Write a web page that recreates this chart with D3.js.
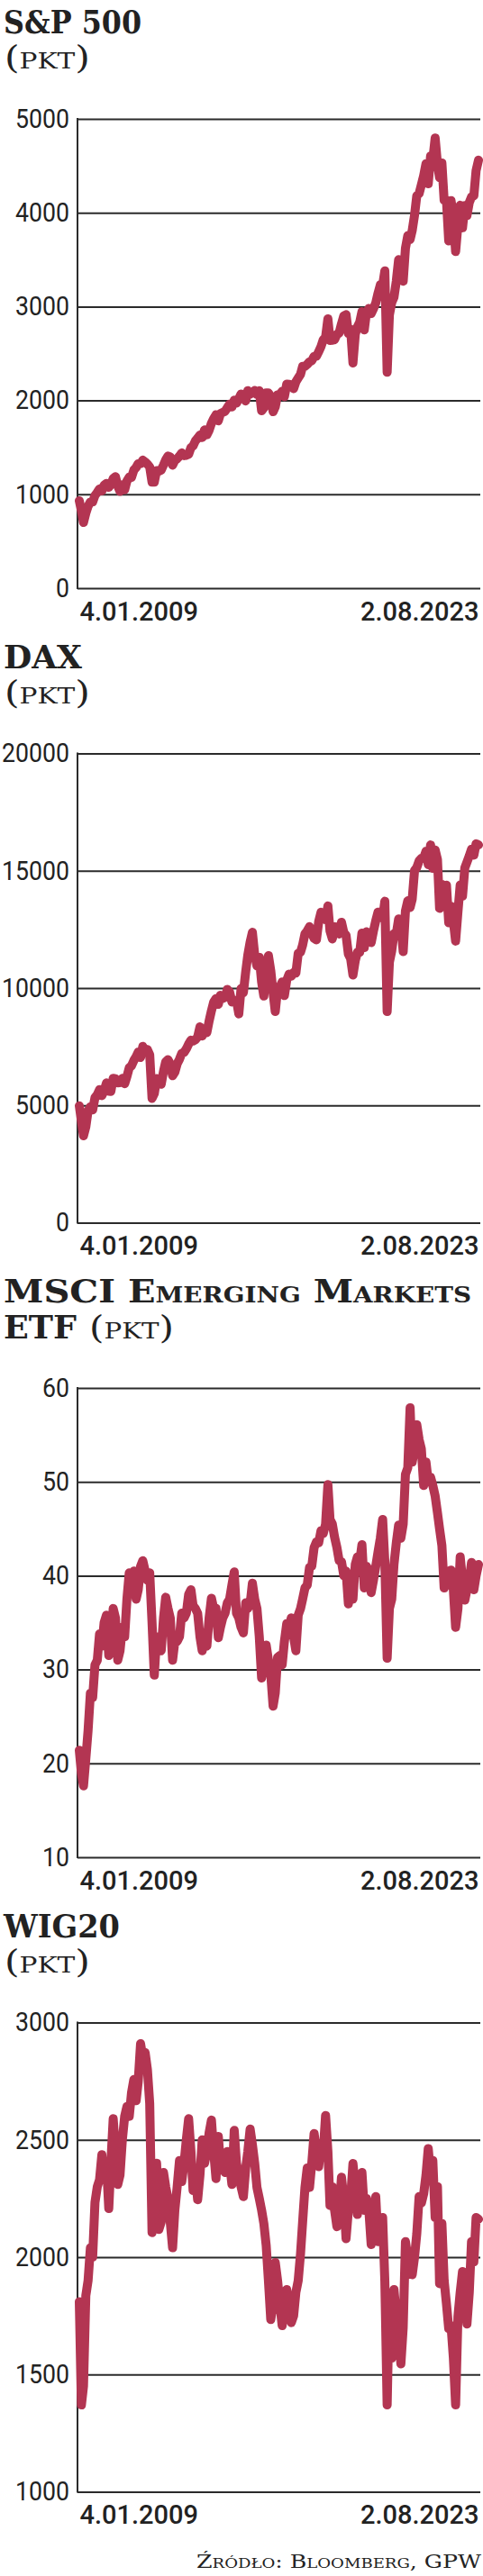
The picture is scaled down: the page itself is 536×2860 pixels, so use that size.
<!DOCTYPE html>
<html>
<head>
<meta charset="utf-8">
<script src="https://cdn.jsdelivr.net/npm/d3@7"></script>
<style>
  body { margin: 0; background: #fff; }
  svg { display: block; }
</style>
</head>
<body>
<div id="chart"></div>
<script>
// dates: first point, then one point per month start, then the last point
var startDate = "2009-01-04",
    endDate = "2023-08-02";
var dateLabels = ["4.01.2009", "2.08.2023"];

// values, one row per year (Jan..Dec month starts)
var sp500 = [
  931, 826, 700, 798, 873, 919, 919, 987, 1021, 1057, 1036, 1096,
  1115, 1074, 1104, 1169, 1187, 1089, 1031, 1102, 1049, 1141, 1183, 1181,
  1258, 1286, 1327, 1326, 1364, 1345, 1321, 1292, 1130, 1131, 1253, 1247,
  1258, 1312, 1366, 1408, 1398, 1310, 1362, 1379, 1407, 1441, 1412, 1416,
  1426, 1498, 1515, 1569, 1598, 1631, 1606, 1686, 1633, 1682, 1757, 1806,
  1848, 1783, 1859, 1872, 1884, 1924, 1960, 1931, 2003, 1972, 2018, 2068,
  2059, 1995, 2105, 2068, 2086, 2107, 2063, 2104, 1890, 1920, 2079, 2080,
  2044, 1880, 1932, 2060, 2065, 2097, 2040, 2174, 2171, 2168, 2126, 2199,
  2239, 2279, 2364, 2363, 2384, 2412, 2423, 2470, 2472, 2519, 2575, 2648,
  2674, 2870, 2640, 2641, 2648, 2705, 2718, 2816, 2902, 2914, 2712, 2760,
  2400, 2704, 2784, 2834, 2946, 2752, 2942, 2980, 2926, 2977, 3038, 3141,
  3231, 3226, 3380, 2300, 2912, 3044, 3100, 3271, 3500, 3363, 3270, 3622,
  3756, 3714, 3811, 3973, 4181, 4204, 4298, 4395, 4523, 4308, 4605, 4567,
  4796, 4516, 4374, 4530, 4132, 4132, 3700, 4130, 3955, 3586, 3872, 4080,
  3840, 4077, 3970, 4109, 4169, 4180, 4450, 4560
];

var dax = [
  4984, 4338, 3700, 4085, 4770, 4941, 4809, 5332, 5458, 5675, 5415, 5625,
  5957, 5608, 5598, 6154, 6136, 5964, 5966, 6148, 5925, 6229, 6601, 6688,
  6914, 7077, 7273, 7041, 7514, 7294, 7376, 7159, 5300, 5502, 6141, 6089,
  5898, 6458, 6856, 6947, 6761, 6264, 6416, 6772, 6970, 7216, 7260, 7405,
  7612, 7776, 7742, 7795, 7914, 8349, 7959, 8276, 8104, 8594, 9033, 9406,
  9552, 9306, 9692, 9556, 9603, 9943, 9833, 9407, 9470, 9474, 8900, 9981,
  9806, 10694, 11402, 11966, 12375, 11414, 10945, 11309, 10259, 9660, 10850, 11382,
  10743, 9798, 9000, 9966, 10039, 10263, 9680, 10337, 10593, 10511, 10665, 10640,
  11481, 11535, 11834, 12313, 12438, 12615, 12325, 12118, 12056, 12829, 13230, 13024,
  12918, 13500, 12436, 12097, 12612, 12605, 12306, 12806, 12364, 12247, 11448, 11257,
  10559, 11173, 11516, 11526, 12344, 11727, 12399, 12189, 11939, 12428, 12867, 13236,
  13249, 12981, 13700, 9000, 11107, 11587, 12311, 12313, 12945, 12761, 11556, 13291,
  13719, 13433, 13786, 15008, 15136, 15421, 15531, 15544, 15835, 15261, 16100, 15100,
  15885, 15471, 13400, 14415, 14098, 14388, 12784, 13484, 12835, 12000, 13254, 14397,
  13924, 15128, 15365, 15629, 15922, 15664, 16148, 16100
];

var msci = [
  21.4, 19.0, 17.6, 20.5, 23.5, 27.5, 27.0, 30.5, 31.0, 33.8, 32.5, 35.0,
  35.8, 31.5, 33.0, 36.5, 35.5, 31.0, 32.0, 34.5, 33.5, 37.5, 40.3, 39.0,
  40.5, 37.5, 38.5, 41.0, 41.6, 40.5, 39.5, 40.3, 35.0, 29.4, 33.5, 32.5,
  32.0, 35.5, 37.7, 36.5, 35.5, 31.0, 33.0, 33.0, 33.5, 36.0, 35.5, 36.0,
  38.0, 38.5, 36.8, 36.5, 36.0, 33.5, 32.0, 33.0, 32.5, 35.5, 37.6, 36.5,
  36.5, 33.4, 34.5, 35.5, 36.0, 37.1, 37.5, 39.0, 40.4, 36.0, 35.5, 34.5,
  33.9, 37.1, 36.5, 37.0, 39.2, 37.5, 36.5, 33.5, 29.1, 30.5, 32.6, 31.0,
  29.5, 26.1, 27.5, 31.3, 31.5, 30.5, 33.0, 34.9, 34.5, 35.5, 33.5, 32.0,
  35.8, 36.5, 37.5, 38.7, 39.0, 40.9, 41.0, 43.0, 43.6, 43.5, 44.8, 44.5,
  45.5, 49.7, 46.0, 45.5, 44.1, 43.0, 41.6, 41.5, 40.0, 40.5, 37.0, 38.5,
  37.5, 41.2, 42.0, 41.5, 43.3, 38.7, 41.0, 40.5, 38.2, 39.5, 41.0, 42.5,
  44.0, 46.0, 41.5, 31.2, 36.5, 37.5, 41.2, 43.5, 45.4, 44.0, 45.5, 50.8,
  51.5, 57.9, 52.1, 53.5, 56.1, 54.5, 53.5, 49.6, 52.1, 50.0, 50.5, 49.6,
  48.5, 46.7, 45.0, 43.2, 38.7, 40.5, 39.0, 40.6, 38.5, 34.5, 36.5, 42.0,
  39.5, 37.4, 38.5, 39.5, 41.4, 38.5, 40.0, 41.2
];

var wig20 = [
  1810, 1370, 1450, 1836, 1900, 2040, 2000, 2233, 2300, 2330, 2437, 2330,
  2400, 2207, 2400, 2590, 2450, 2310, 2350, 2500, 2600, 2642, 2600, 2700,
  2757, 2667, 2750, 2910, 2850, 2872, 2800, 2655, 2105, 2200, 2400, 2118,
  2150, 2361, 2300, 2250, 2150, 2040, 2200, 2300, 2412, 2322, 2400, 2500,
  2590, 2450, 2284, 2350, 2245, 2350, 2500, 2400, 2450, 2530, 2584, 2450,
  2335, 2514, 2400, 2380, 2361, 2450, 2400, 2310, 2540, 2400, 2350, 2300,
  2258, 2380, 2450, 2546, 2480, 2400, 2297, 2250, 2200, 2143, 2050, 1900,
  1734, 1800, 1977, 1900, 1800, 1708, 1780, 1862, 1780, 1721, 1750, 1850,
  1900, 2015, 2150, 2297, 2380, 2297, 2400, 2527, 2450, 2386, 2480, 2450,
  2604, 2450, 2220, 2300, 2200, 2130, 2200, 2341, 2250, 2079, 2200, 2250,
  2399, 2300, 2182, 2300, 2361, 2200, 2250, 2200, 2054, 2150, 2258, 2066,
  2100, 2169, 1900, 1370, 1836, 1570, 1862, 1750, 1700, 1545, 1700, 2066,
  2000, 1950, 1925, 2000, 2100, 2258, 2230, 2270, 2350, 2463, 2350, 2412,
  2169, 2300, 1887, 2143, 1900, 1800, 1695, 1708, 1570, 1370, 1747, 1850,
  1939, 1850, 1715, 1850, 2066, 1980, 2169, 2162
];

// tick labels
var sp500Ticks = [0, 1000, 2000, 3000, 4000, 5000];
var daxTicks = [0, 5000, 10000, 15000, 20000];
var msciTicks = [10, 20, 30, 40, 50, 60];
var wig20Ticks = [1000, 1500, 2000, 2500, 3000];

var titles = ["S&P 500", "DAX", "MSCI Emerging Markets", "WIG20"];
var unitLabel = "PKT";
var sourceLabel = "Źródło: Bloomberg, GPW";

var width = 536, height = 2860;
var plotLeft = 86, plotRight = 533, plotHeight = 521;
var lineColor = "#b33552", inkColor = "#222";

var parseDate = d3.timeParse("%Y-%m-%d");
var dates = [parseDate(startDate)]
  .concat(d3.timeMonth.range(new Date(2009, 1, 1), new Date(2023, 7, 1)))
  .concat([parseDate(endDate)]);

var svg = d3.select("#chart")
  .append("svg")
    .attr("width", width)
    .attr("height", height);

var x = d3.scaleTime()
  .domain([dates[0], dates[dates.length - 1]])
  .range([88, 531]);

var panels = [
  {title: titles[0], titleWidth: 153, values: sp500, ticks: sp500Ticks},
  {title: titles[1], titleWidth: 87, values: dax, ticks: daxTicks},
  {title: titles[2], titleWidth: 519, values: msci, ticks: msciTicks, twoLines: true},
  {title: titles[3], titleWidth: 129, values: wig20, ticks: wig20Ticks}
];

function unitText(g, xPos, yPos, w) {
  var t = g.append("text")
    .attr("x", xPos)
    .attr("y", yPos)
    .attr("textLength", w)
    .attr("lengthAdjust", "spacingAndGlyphs")
    .style("font-family", "'DejaVu Serif', serif")
    .style("fill", inkColor);
  t.append("tspan").style("font-size", "36px").text("(");
  t.append("tspan").style("font-size", "25px").text(unitLabel);
  t.append("tspan").style("font-size", "36px").text(")");
}

panels.forEach(function(p, i) {
  var top = 132 + 704.5 * i;
  var g = svg.append("g").attr("transform", "translate(0," + top + ")");

  var y = d3.scaleLinear()
    .domain(d3.extent(p.ticks))
    .range([plotHeight, 0]);

  // title
  g.append("text")
    .attr("x", 4)
    .attr("y", -95)
    .attr("textLength", p.titleWidth)
    .attr("lengthAdjust", "spacingAndGlyphs")
    .style("font-family", "'DejaVu Serif', serif")
    .style("font-weight", "bold")
    .style("font-size", "36px")
    .style("font-variant", "small-caps")
    .style("fill", inkColor)
    .text(p.title);

  if (p.twoLines) {
    g.append("text")
      .attr("x", 4)
      .attr("y", -55)
      .attr("textLength", 81)
      .attr("lengthAdjust", "spacingAndGlyphs")
      .style("font-family", "'DejaVu Serif', serif")
      .style("font-weight", "bold")
      .style("font-size", "36px")
      .style("fill", inkColor)
      .text("ETF");
    unitText(g, 99, -55, 94);
  } else {
    unitText(g, 5, -56, 95);
  }

  // gridlines and y tick labels
  var yAxis = g.append("g")
    .attr("transform", "translate(" + plotLeft + ",0)")
    .call(d3.axisLeft(y)
      .tickValues(p.ticks)
      .tickSize(-(plotRight - plotLeft))
      .tickPadding(9)
      .tickFormat(d3.format("d")));
  yAxis.select(".domain").remove();
  yAxis.selectAll("line")
    .attr("stroke", "#2b2b2b")
    .attr("stroke-width", 2);
  yAxis.selectAll("text")
    .attr("textLength", function(d) { return String(d).length * 15; })
    .attr("lengthAdjust", "spacingAndGlyphs")
    .style("font-family", "Roboto, sans-serif")
    .style("font-size", "29px")
    .style("fill", inkColor);

  // vertical axis line
  g.append("line")
    .attr("x1", plotLeft).attr("x2", plotLeft)
    .attr("y1", -1).attr("y2", plotHeight + 1)
    .attr("stroke", "#2b2b2b")
    .attr("stroke-width", 2);

  // date labels
  var xAxis = g.append("g")
    .attr("transform", "translate(0," + plotHeight + ")")
    .call(d3.axisBottom(x)
      .tickValues([dates[0], dates[dates.length - 1]])
      .tickFormat(function(d, k) { return dateLabels[k]; })
      .tickSize(0)
      .tickPadding(15));
  xAxis.select(".domain").remove();
  xAxis.selectAll("text")
    .style("text-anchor", function(d, k) { return k === 0 ? "start" : "end"; })
    .style("font-family", "Roboto, sans-serif")
    .style("font-weight", "500")
    .style("font-size", "29px")
    .style("fill", inkColor);

  // the series
  var line = d3.line()
    .x(function(d, k) { return x(dates[k]); })
    .y(function(d) { return y(d); });

  g.append("path")
    .datum(p.values)
    .attr("d", line)
    .attr("fill", "none")
    .attr("stroke", lineColor)
    .attr("stroke-width", 10)
    .attr("stroke-linejoin", "round")
    .attr("stroke-linecap", "round");
});

// source
svg.append("text")
  .attr("x", 534)
  .attr("y", 2851)
  .attr("text-anchor", "end")
  .attr("textLength", 316)
  .attr("lengthAdjust", "spacingAndGlyphs")
  .style("font-family", "'DejaVu Serif', serif")
  .style("font-size", "21px")
  .style("font-variant", "small-caps")
  .style("fill", inkColor)
  .text(sourceLabel);
</script>
</body>
</html>
